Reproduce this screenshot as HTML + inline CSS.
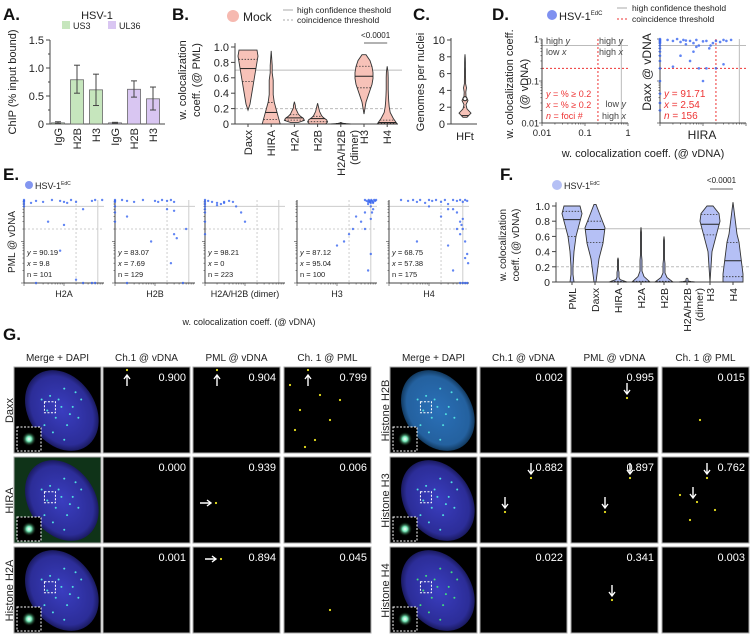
<!DOCTYPE html>
<html><head><meta charset="utf-8">
<style>
html,body{margin:0;padding:0;background:#fff;}
svg{display:block;font-family:"Liberation Sans",Arial,sans-serif;}
</style></head>
<body>
<svg id="fig" width="750" height="634" viewBox="0 0 750 634" xmlns="http://www.w3.org/2000/svg">
<defs>
<radialGradient id="nucB" cx="50%" cy="50%" r="50%"><stop offset="0" stop-color="#3a3ec0"/><stop offset="0.85" stop-color="#2c2d98"/><stop offset="1" stop-color="#1a1a60"/></radialGradient>
<radialGradient id="nucT" cx="50%" cy="50%" r="50%"><stop offset="0" stop-color="#2a70b8"/><stop offset="0.85" stop-color="#24619f"/><stop offset="1" stop-color="#123a60"/></radialGradient>
<radialGradient id="blob" cx="50%" cy="50%" r="50%"><stop offset="0" stop-color="#ffffff"/><stop offset="0.35" stop-color="#7cf0c0"/><stop offset="1" stop-color="#0a3010" stop-opacity="0"/></radialGradient>
</defs>
<g font-weight="bold" font-size="17" fill="#111">
<text x="3" y="20">A.</text><text x="172" y="20">B.</text><text x="413" y="20">C.</text><text x="492" y="20">D.</text>
<text x="3" y="180">E.</text><text x="500" y="180">F.</text><text x="3" y="340">G.</text>
</g>
<g id="pA"></g>
<g id="pB"></g>
<g id="pC"></g>
<g id="pD"></g>
<g id="pE"></g>
<g id="pF"></g>
<g id="pG"></g>
</svg>
<script>
// ---------- DATA ----------
const aCats=['IgG','H2B','H3','IgG','H2B','H3'];
const aVals=[0.02,0.79,0.61,0.02,0.62,0.45];
const aErrLo=[0.01,0.55,0.33,0.01,0.48,0.25];
const aErrHi=[0.04,1.05,0.89,0.03,0.77,0.66];
const aGroup=[0,0,0,1,1,1];
const aTicks=[0,0.5,1.0,1.5];
const aTickLabels=['0','0.5','1.0','1.5'];

const bCats=['Daxx','HIRA','H2A','H2B','H2A/H2B','H3','H4'];
const bMin=[0.18,0.0,0.02,0.0,0.0,0.13,0.0];
const bMax=[0.96,0.95,0.29,0.27,0.02,0.90,0.75];
const bMed=[0.72,0.15,0.08,0.07,0.005,0.62,0.02];
const bQ1=[0.55,0.06,0.05,0.03,0.0,0.47,0.01];
const bQ3=[0.84,0.28,0.12,0.10,0.01,0.75,0.05];
const bProf=[[0,2,3,4,5,6,7,8,9,10,9],[9,7,5,3,2,2,2,1,1,0.5,0],[4,10,9,6,4,3,2,1,1,0.5,0],[8,10,9,6,4,3,2,1.5,1,0.5,0],[10,8,6,4,3,2,1,1,0.5,0.5,0],[0,1,2,4,6,8,9,9,8,6,2],[10,6,3,2,1.5,1.2,1,1,1,0.8,0]];
const vTicks=[0,0.2,0.4,0.6,0.8,1.0];
const vTickLabels=['0','0.2','0.4','0.6','0.8','1.0'];

const cMin=0.8, cMax=8.3, cMed=1;
const cProf=[2,6,2,1,3,1,0.8,1.5,0.6,0.6,0.5,0.5,0.4,0.4,0.3,0];
const cTicks=[0,2,4,6,8,10];
const cTickLabels=['0','2','4','6','8','10'];

const dX=[0.01,0.01,0.01,0.01,0.01,0.01,0.01,0.01,0.01,0.01,0.01,0.01,0.01,0.01,0.01,0.015,0.02,0.025,0.03,0.035,0.04,0.05,0.06,0.07,0.08,0.1,0.12,0.14,0.17,0.2,0.25,0.3,0.35,0.45,0.03,0.05,0.08,0.12,0.02,0.06,0.1,0.15,0.3,0.04,0.07,0.2];
const dY=[1,0.95,0.9,0.85,0.8,0.7,0.6,0.5,0.4,0.3,0.2,0.1,0.05,0.03,0.02,0.95,0.9,1,0.85,0.95,0.92,0.9,0.8,0.95,0.7,0.88,0.9,0.6,0.8,0.9,0.85,0.95,0.9,0.95,0.4,0.3,0.2,0.2,0.22,0.5,0.1,0.7,0.25,0.75,0.65,0.2];
const dTicks=[0.01,0.1,1];
const dTickLabels=['0.01','0.1','1'];

const eCats=['H2A','H2B','H2A/H2B (dimer)','H3','H4'];
const eStats=[['90.19','9.8','101'],['83.07','7.69','129'],['98.21','0','223'],['87.12','95.04','100'],['68.75','57.38','175']];
const eX=[
[0.01,0.01,0.01,0.01,0.01,0.015,0.02,0.03,0.05,0.08,0.1,0.12,0.15,0.2,0.3,0.5,0.6,0.9,0.04,0.1,0.08,0.2,0.3,0.5,0.6,0.02],
[0.01,0.01,0.01,0.01,0.01,0.01,0.015,0.02,0.03,0.05,0.1,0.12,0.15,0.2,0.25,0.3,0.02,0.08,0.3,0.25,0.5,0.3,0.2,0.35,0.6,0.02],
[0.01,0.01,0.01,0.01,0.01,0.01,0.01,0.01,0.012,0.015,0.02,0.025,0.03,0.04,0.05,0.06,0.08,0.1,0.02,0.03],
[0.5,0.55,0.6,0.62,0.65,0.68,0.7,0.72,0.75,0.8,0.85,0.9,0.95,0.6,0.7,0.8,0.5,0.3,0.4,0.25,0.2,0.15,0.5,0.7,0.1,0.6,0.75,0.65,0.8,0.7],
[0.02,0.03,0.04,0.05,0.06,0.08,0.1,0.12,0.15,0.2,0.25,0.3,0.4,0.5,0.6,0.7,0.8,0.9,0.5,0.6,0.7,0.8,0.9,0.95,0.3,0.2,0.1,0.05,0.4,0.6,0.7,0.8,0.5,0.3,0.6,0.9,0.7,0.8,0.4,0.65]
];
const eY=[
[1,0.95,0.9,0.8,0.7,0.85,0.95,0.9,1,0.95,0.9,0.85,1,0.9,0.6,0.95,1,1,0.3,0.25,0.06,0.012,0.01,0.01,0.01,0.01],
[1,0.95,0.9,0.7,0.5,0.3,1,0.95,0.9,1,0.95,0.9,1,0.95,1,0.9,0.4,0.1,0.55,0.03,0.01,0.15,0.6,0.12,0.2,0.01],
[1,0.9,0.8,0.7,0.6,0.5,0.3,0.15,0.95,0.9,0.85,0.8,0.9,0.95,0.9,0.7,0.5,0.3,0.75,0.85],
[1,0.95,0.9,1,0.95,0.9,0.85,1,0.95,0.9,1,0.95,1,0.8,0.7,0.6,0.5,0.4,0.3,0.2,0.15,0.1,0.2,0.05,0.08,0.02,0.5,0.9,0.85,0.35],
[1,0.95,1,0.9,1,0.85,1,0.95,1,0.9,1,0.8,1,0.95,1,0.9,1,0.95,0.5,0.3,0.2,0.1,0.05,0.03,0.6,0.4,0.7,0.1,0.02,0.01,0.01,0.01,0.2,0.08,0.15,0.01,0.35,0.04,0.6,0.25]
];

const fCats=['PML','Daxx','HIRA','H2A','H2B','H2A/H2B','H3','H4'];
const fMin=[0,0,0,0,0,0,0,0];
const fMax=[1.0,1.02,0.32,0.72,0.6,0.05,1.0,1.05];
const fMed=[0.82,0.69,0.0,0.0,0.0,0.0,0.76,0.28];
const fQ1=[0.6,0.52,0,0,0,0,0.62,0.07];
const fQ3=[0.93,0.8,0.01,0.01,0.01,0.01,0.89,0.52];
const fProf=[[2,1,1,1.5,2,3,4,6,8,10,8],[1,2,3,4,6,8,9,10,7,4,1],[9,2,1,1,1,0.5,0.5,0.5,0.5,0.5,0],[9,3,1,1,1,0.5,0.5,0.5,0.5,0.5,0],[9,3,1,1,1,0.5,0.5,0.5,0.5,0.5,0],[8,4,2,1,1,1,1,1,1,0.5,0],[0,0.5,1,1.5,2,4,6,8,10,9,3],[10,10,9,8,7,6,4,3,2,1,0]];

const gHeaders=['Merge + DAPI','Ch.1 @ vDNA','PML @ vDNA','Ch. 1 @ PML'];
const gRowsL=['Daxx','HIRA','Histone H2A'];
const gRowsR=['Histone H2B','Histone H3','Histone H4'];
const gValsL=[['0.900','0.904','0.799'],['0.000','0.939','0.006'],['0.001','0.894','0.045']];
const gValsR=[['0.002','0.995','0.015'],['0.882','0.897','0.762'],['0.022','0.341','0.003']];

// ---------- HELPERS ----------
const NS='http://www.w3.org/2000/svg';
function el(tag,parent){const e=document.createElementNS(NS,tag);parent.appendChild(e);return e;}
function txt(parent,x,y,s,size,anchor,fill){const t=el('text',parent);t.setAttribute('x',x);t.setAttribute('y',y);t.setAttribute('font-size',size);t.setAttribute('text-anchor',anchor||'start');t.setAttribute('fill',fill||'#222');t.textContent=s;return t;}
function line(parent,x1,y1,x2,y2,stroke,w,dash){const l=el('line',parent);l.setAttribute('x1',x1);l.setAttribute('y1',y1);l.setAttribute('x2',x2);l.setAttribute('y2',y2);l.setAttribute('stroke',stroke);l.setAttribute('stroke-width',w||1);if(dash)l.setAttribute('stroke-dasharray',dash);return l;}
function rotText(parent,x,y,s,size,anchor){const t=txt(parent,x,y,s,size,anchor);t.setAttribute('transform','rotate(-90 '+x+' '+y+')');return t;}
const L10=v=>Math.log10(Math.max(v,0.01));

// ---------- A ----------
(function(){
const g=document.getElementById('pA');
const yA=v=>124-v*56, xA=i=>58+i*19;
let t=txt(g,97,19,'HSV-1',11,'middle');


const cols=['#c6e6bd','#d9c6f2'], names=['US3','UL36'];
for(let k=0;k<2;k++){
 const r=el('rect',g);r.setAttribute('x',62+k*46);r.setAttribute('y',21);r.setAttribute('width',8);r.setAttribute('height',8);r.setAttribute('fill',cols[k]);
 
 
 const lt=txt(g,73+k*46,29,names[k],9);
 
 
}
line(g,50,40,50,124,'#444',1);
line(g,50,124,165,124,'#444',1);
aTicks.forEach((v,i)=>{line(g,46,yA(v),50,yA(v),'#444',1);
 const tl=txt(g,44,yA(v)+4,aTickLabels[i],11,'end');
 
 });
line(g,48,yA(0.25),50,yA(0.25),'#444',1);line(g,48,yA(0.75),50,yA(0.75),'#444',1);line(g,48,yA(1.25),50,yA(1.25),'#444',1);
const yt=rotText(g,16,82,'ChIP (% input bound)',11,'middle');


aVals.forEach((v,i)=>{
 const r=el('rect',g);r.setAttribute('x',xA(i)-6.5);r.setAttribute('y',yA(v));r.setAttribute('width',13);r.setAttribute('height',yA(0)-yA(v));r.setAttribute('fill',cols[aGroup[i]]);r.setAttribute('stroke','#666');r.setAttribute('stroke-width',0.8);
 
 
 line(g,xA(i),yA(aErrLo[i]),xA(i),yA(aErrHi[i]),'#444',1);
 line(g,xA(i)-3,yA(aErrLo[i]),xA(i)+3,yA(aErrLo[i]),'#444',1);
 line(g,xA(i)-3,yA(aErrHi[i]),xA(i)+3,yA(aErrHi[i]),'#444',1);
 const c=rotText(g,xA(i)+4,128,aCats[i],11,'end');
 
 
});
})();

function violin(g,cx,yS,mn,mx,md,q1,q3,prof,fill,name){
 const n=prof.length, pts=[];
 for(let i=0;i<n;i++){const v=mn+(mx-mn)*i/(n-1);pts.push([yS(v),prof[i]]);}
 let d='M'+(cx-pts[0][1])+','+pts[0][0];
 for(let i=1;i<n;i++)d+=' L'+(cx-pts[i][1])+','+pts[i][0];
 for(let i=n-1;i>=0;i--)d+=' L'+(cx+pts[i][1])+','+pts[i][0];
 d+='Z';
 const p=el('path',g);p.setAttribute('d',d);p.setAttribute('fill',fill);p.setAttribute('stroke','#333');p.setAttribute('stroke-width',0.9);
 
 
 const w=v=>{const f=(v-mn)/((mx-mn)||1)*(n-1);const i=Math.max(0,Math.min(n-2,Math.floor(f)));const r=f-i;return prof[i]*(1-r)+prof[i+1]*r;};
 line(g,cx-w(md),yS(md),cx+w(md),yS(md),'#222',1);
 line(g,cx-w(q1),yS(q1),cx+w(q1),yS(q1),'#333',0.8,'1.5,1.5');
 line(g,cx-w(q3),yS(q3),cx+w(q3),yS(q3),'#333',0.8,'1.5,1.5');
}

// ---------- B ----------
(function(){
const g=document.getElementById('pB');
const yB=v=>124-v*77, xB=i=>248+i*23.2;
const c=el('circle',g);c.setAttribute('cx',233);c.setAttribute('cy',16);c.setAttribute('r',6);c.setAttribute('fill','#f6b9b0');


let t=txt(g,243,21,'Mock',12);


line(g,283,10,293,10,'#aaa',1);line(g,283,20,293,20,'#aaa',1,'2,2');
t=txt(g,297,13,'high confidence theshold',8.5);


t=txt(g,297,23,'coincidence threshold',8.5);


line(g,235,yB(0.7),402,yB(0.7),'#bbb',1);
line(g,235,yB(0.2),402,yB(0.2),'#bbb',1,'3,2');
line(g,235,yB(1.05),235,124,'#444',1);line(g,235,124,398,124,'#444',1);
vTicks.forEach((v,i)=>{line(g,231,yB(v),235,yB(v),'#444',1);
 const tl=txt(g,229,yB(v)+4,vTickLabels[i],11,'end');
 
 });
t=rotText(g,186,80,'w. colocalization',11,'middle');


t=rotText(g,200,80,'coeff. (@ PML)',11,'middle');


bCats.forEach((cat,i)=>{
 violin(g,xB(i),yB,bMin[i],bMax[i],bMed[i],bQ1[i],bQ3[i],bProf[i],'#f7c2b8',cat.toLowerCase());
 line(g,xB(i),124,xB(i),127,'#444',1);
 const ct=rotText(g,xB(i)+4,130,cat,11,'end');
 
 
});
const d=rotText(g,xB(4)+17,130,'(dimer)',11,'end');


line(g,xB(5),43,xB(6),43,'#666',1);
t=txt(g,(xB(5)+xB(6))/2,38,'<0.0001',8,'middle');


})();

// ---------- C ----------
(function(){
const g=document.getElementById('pC');
const yC=v=>124-v*8.4, cx=465;
line(g,451,38,451,124,'#444',1);line(g,451,124,477,124,'#444',1);
cTicks.forEach((v,i)=>{line(g,447,yC(v),451,yC(v),'#444',1);
 const tl=txt(g,445,yC(v)+4,cTickLabels[i],11,'end');
 
 });
let t=rotText(g,424,82,'Genomes per nuclei',11,'middle');


violin(g,cx,yC,cMin,cMax,cMed,cMed,2,cProf,'#f7c2b8','hft');
const m=el('circle',g);m.setAttribute('cx',cx);m.setAttribute('cy',yC(3));m.setAttribute('r',2);m.setAttribute('fill','#fff');m.setAttribute('stroke','#222');


t=txt(g,cx,140,'HFt',11,'middle');


})();

// ---------- D ----------
(function(){
const g=document.getElementById('pD');
const xL=v=>542+(L10(v)+2)/2*86, xR=v=>660+(L10(v)+2)/2*86, yD=v=>123-(L10(v)+2)/2*84;
const c=el('circle',g);c.setAttribute('cx',552);c.setAttribute('cy',15);c.setAttribute('r',5);c.setAttribute('fill','#7e90f0');


let t=txt(g,559,20,'HSV-1',11);t.innerHTML='HSV-1<tspan font-size="6" dy="-5">EdC</tspan>';


line(g,617,8,627,8,'#aaa',1);line(g,617,19,627,19,'#e33',1,'2,2');
t=txt(g,632,11,'high confidence theshold',8.5);


t=txt(g,632,22,'coincidence threshold',8.5);


[xL,xR].forEach((xf,k)=>{
 line(g,xf(0.7),yD(1),xf(0.7),123,'#bbb',1);line(g,xf(0.01),yD(0.7),xf(1),yD(0.7),'#bbb',1);
 line(g,xf(0.2),yD(1),xf(0.2),123,'#e33',1,'2,2');line(g,xf(0.01),yD(0.2),xf(1),yD(0.2),'#e33',1,'2,2');
 line(g,xf(0.01),yD(1),xf(0.01),123,'#444',1);line(g,xf(0.01),123,xf(1),123,'#444',1);
 for(let e=-2;e<0;e++)for(let m=1;m<10;m++){const v=m*Math.pow(10,e);const L=m==1?3:1.5;
  line(g,xf(0.01)-L,yD(v),xf(0.01),yD(v),'#444',0.7);line(g,xf(v),123,xf(v),123+L,'#444',0.7);}
 line(g,xf(0.01)-3,yD(1),xf(0.01),yD(1),'#444',0.7);line(g,xf(1),123,xf(1),126,'#444',0.7);
});
dTicks.forEach((v,i)=>{
 const a=txt(g,xL(v),136,dTickLabels[i],9.5,'middle');
 
 
 const b=txt(g,539,yD(v)+3.5,dTickLabels[i],9,'end');
 
 
});
const q=[[546,44,'high '],[546,55,'low '],[599,44,'high '],[599,55,'high ']];
const qv=['y','x','y','x'];
q.forEach((p,i)=>{const tt=txt(g,p[0],p[1],p[2],9,'start','#444');tt.innerHTML=p[2]+'<tspan font-style="italic">'+qv[i]+'</tspan>';
 
 });
t=txt(g,626,107,'',9,'end','#444');t.innerHTML='low <tspan font-style="italic">y</tspan>';


t=txt(g,626,119,'',9,'end','#444');t.innerHTML='high <tspan font-style="italic">x</tspan>';


const red=[['y',' = % ≥ 0.2',97],['x',' = % ≥ 0.2',108],['n',' = foci #',119]];
red.forEach(r=>{const tt=txt(g,546,r[2],'',9,'start','#e33');tt.innerHTML='<tspan font-style="italic">'+r[0]+'</tspan>'+r[1];
 
 });
const red2=[['y',' = 91.71',97],['x',' = 2.54',108],['n',' = 156',119]];
red2.forEach(r=>{const tt=txt(g,664,r[2],'',10,'start','#e33');tt.innerHTML='<tspan font-style="italic">'+r[0]+'</tspan>'+r[1];
 
 });
dX.forEach((v,i)=>{const p=el('circle',g);p.setAttribute('cx',xR(v));p.setAttribute('cy',yD(dY[i]));p.setAttribute('r',1.3);p.setAttribute('fill','#3a66f0');p.setAttribute('fill-opacity',0.8);
 
 });
t=txt(g,702,139,'HIRA',12,'middle');


t=rotText(g,651,72,'Daxx @ vDNA',12,'middle');


t=rotText(g,513,84,'w. colocalization coeff.',11,'middle');


t=rotText(g,528,84,'(@ vDNA)',11,'middle');


t=txt(g,643,157,'w. colocalization coeff. (@ vDNA)',11,'middle');


})();

// ---------- E ----------
(function(){
const g=document.getElementById('pE');
const c=el('circle',g);c.setAttribute('cx',29);c.setAttribute('cy',185);c.setAttribute('r',4);c.setAttribute('fill','#8396f0');


let t=txt(g,35,189,'',9);t.innerHTML='HSV-1<tspan font-size="5" dy="-4">EdC</tspan>';


const left=[24,115,205,297,389], W=80;
const yE=v=>283-(L10(v)+2)/2*83;
eCats.forEach((cat,k)=>{
 const x0=left[k], xE=v=>x0+(L10(v)+2)/2*W;
 line(g,xE(0.01),yE(0.7),xE(1),yE(0.7),'#ccc',1);line(g,xE(0.7),yE(1),xE(0.7),283,'#ccc',1);
 line(g,xE(0.01),yE(0.2),xE(1),yE(0.2),'#ccc',1,'2,2');line(g,xE(0.2),yE(1),xE(0.2),283,'#ccc',1,'2,2');
 line(g,x0,yE(1),x0,283,'#444',1);line(g,x0,283,xE(1),283,'#444',1);
 for(let e=-2;e<0;e++)for(let m=1;m<10;m++){const v=m*Math.pow(10,e);const L=m==1?3:1.5;
  line(g,x0-L,yE(v),x0,yE(v),'#444',0.6);line(g,xE(v),283,xE(v),283+L,'#444',0.6);}
 eX[k].forEach((v,i)=>{const p=el('circle',g);p.setAttribute('cx',xE(v));p.setAttribute('cy',yE(eY[k][i]));p.setAttribute('r',1.2);p.setAttribute('fill','#3a66f0');p.setAttribute('fill-opacity',0.8);
  
  });
 const lab=[['y',eStats[k][0],255],['x',eStats[k][1],266],['n',eStats[k][2],277]];
 lab.forEach(l=>{const tt=txt(g,x0+3,l[2],'',7.5,'start','#222');tt.innerHTML=(l[0]=='n'?'n':'<tspan font-style="italic">'+l[0]+'</tspan>')+' = '+l[1];
  
  });
 const ct=txt(g,x0+W/2,297,cat,9,'middle');
 
 
});
t=rotText(g,15,242,'PML @ vDNA',10,'middle');


t=txt(g,249,325,'w. colocalization coeff. (@ vDNA)',9,'middle');


})();

// ---------- F ----------
(function(){
const g=document.getElementById('pF');
const yF=v=>282-v*76, xF=i=>572+i*23;
const c=el('circle',g);c.setAttribute('cx',557);c.setAttribute('cy',185);c.setAttribute('r',5);c.setAttribute('fill','#b5c0f5');


let t=txt(g,564,189,'',9);t.innerHTML='HSV-1<tspan font-size="5" dy="-4">EdC</tspan>';


line(g,556,yF(0.7),750,yF(0.7),'#bbb',1);line(g,556,yF(0.2),750,yF(0.2),'#bbb',1,'3,2');
line(g,556,yF(1.05),556,282,'#444',1);line(g,556,282,742,282,'#444',1);
vTicks.forEach((v,i)=>{line(g,552,yF(v),556,yF(v),'#444',1);
 const tl=txt(g,550,yF(v)+4,vTickLabels[i],10.5,'end');
 
 });
t=rotText(g,506,245,'w. colocalization',10,'middle');


t=rotText(g,519,245,'coeff. (@ vDNA)',10,'middle');


fCats.forEach((cat,i)=>{
 violin(g,xF(i),yF,fMin[i],fMax[i],fMed[i],fQ1[i],fQ3[i],fProf[i],'#b5c0f5',cat.toLowerCase());
 line(g,xF(i),282,xF(i),285,'#444',1);
 const ct=rotText(g,xF(i)+4,288,cat,10.5,'end');
 
 
});
const d=rotText(g,xF(5)+16,288,'(dimer)',10.5,'end');


line(g,xF(6),189,xF(7),189,'#666',1);
t=txt(g,(xF(6)+xF(7))/2,183,'<0.0001',8,'middle');


})();

// ---------- G ----------
(function(){
const g=document.getElementById('pG');
const colsL=[14,103,193,284], colsR=[390,480,571,662], rows=[367,457,547], S=87;
const blocks=[[colsL,gRowsL,gValsL,8],[colsR,gRowsR,gValsR,384]];
const dots=[[0.3,0.3],[0.55,0.2],[0.7,0.45],[0.4,0.6],[0.6,0.7],[0.25,0.5],[0.5,0.45],[0.75,0.25],[0.35,0.8],[0.65,0.55],[0.45,0.35],[0.2,0.7],[0.8,0.6],[0.15,0.35],[0.55,0.9],[0.85,0.35]];
blocks.forEach((b,bi)=>{
 const cols=b[0];
 gHeaders.forEach((h,i)=>{const t=txt(g,cols[i]+S/2,361,h,10,'middle','#222');
  
  });
 rows.forEach((ry,r)=>{
  const rl=rotText(g,b[3]+5,ry+S/2,b[1][r],11,'middle');
  
  
  cols.forEach((cx,ci)=>{
   const tile=el('rect',g);tile.setAttribute('x',cx);tile.setAttribute('y',ry);tile.setAttribute('width',S);tile.setAttribute('height',S-1);tile.setAttribute('fill','#000');tile.setAttribute('stroke','#aaa');tile.setAttribute('stroke-width',1);
   
   
   if(ci==0){
    const bg=(bi==0&&r==1);
    if(bg){const gr=el('rect',g);gr.setAttribute('x',cx+0.5);gr.setAttribute('y',ry+0.5);gr.setAttribute('width',S-1);gr.setAttribute('height',S-2);gr.setAttribute('fill','#0f3318');}
    const ex=cx+S*0.55, ey=ry+S*0.5;
    const e=el('ellipse',g);e.setAttribute('cx',ex);e.setAttribute('cy',ey);e.setAttribute('rx',S*0.38);e.setAttribute('ry',S*0.5);
    e.setAttribute('transform','rotate(-35 '+ex+' '+ey+')');
    e.setAttribute('fill',(bi==1&&r<1)?'url(#nucT)':'url(#nucB)');
    
    
    dots.forEach(d=>{const p=el('circle',g);p.setAttribute('cx',cx+S*(0.22+d[0]*0.65));p.setAttribute('cy',ry+S*(0.08+d[1]*0.84));p.setAttribute('r',1);p.setAttribute('fill',(bi==1&&r==2)?'#40e080':'#50e0e0');});
    const inset=el('rect',g);inset.setAttribute('x',cx+3);inset.setAttribute('y',ry+S-27);inset.setAttribute('width',24);inset.setAttribute('height',24);inset.setAttribute('fill','#000');inset.setAttribute('stroke','#fff');inset.setAttribute('stroke-dasharray','2,1.5');
    
    
    const bl=el('circle',g);bl.setAttribute('cx',cx+15);bl.setAttribute('cy',ry+S-15);bl.setAttribute('r',7);bl.setAttribute('fill','url(#blob)');
    const sb=el('rect',g);sb.setAttribute('x',cx+S*0.35);sb.setAttribute('y',ry+S*0.4);sb.setAttribute('width',11);sb.setAttribute('height',11);sb.setAttribute('fill','none');sb.setAttribute('stroke','#fff');sb.setAttribute('stroke-dasharray','2,1.5');
   } else {
    const v=txt(g,cx+S-4,ry+14,b[2][r][ci-1],11,'end','#fff');
    
    
   }
  });
 });
});
// yellow foci (image features)
const spots=[[127,370],[217,370],[308,370],[290,385],[320,395],[300,410],[330,420],[295,430],[315,440],[340,400],[305,447],
 [216,503],[221,559],[627,398],[531,478],[505,512],[630,478],[605,512],[707,478],[697,502],[690,520],[715,510],[680,495],[612,600],[700,420],[330,610]];
spots.forEach(s=>{const p=el('circle',g);p.setAttribute('cx',s[0]);p.setAttribute('cy',s[1]);p.setAttribute('r',1.1);p.setAttribute('fill','#e8e020');
 
 });
// arrows: [tipX, tipY, direction]
const arrows=[[127,375,'up'],[217,375,'up'],[308,375,'up'],[211,503,'right'],[216,559,'right'],[627,394,'down'],[531,474,'down'],[505,508,'down'],[630,474,'down'],[605,508,'down'],[707,474,'down'],[693,498,'down'],[612,596,'down']];
arrows.forEach(a=>{
 const x=a[0],y=a[1];
 const gA=el('g',g);
 
 
 let d;
 if(a[2]=='up') d='M'+x+','+y+' L'+x+','+(y+11)+' M'+(x-3)+','+(y+4)+' L'+x+','+y+' L'+(x+3)+','+(y+4);
 else if(a[2]=='right') d='M'+(x-11)+','+y+' L'+x+','+y+' M'+(x-4)+','+(y-3)+' L'+x+','+y+' L'+(x-4)+','+(y+3);
 else d='M'+x+','+(y-11)+' L'+x+','+y+' M'+(x-3)+','+(y-4)+' L'+x+','+y+' L'+(x+3)+','+(y-4);
 const p=el('path',gA);p.setAttribute('d',d);p.setAttribute('stroke','#fff');p.setAttribute('stroke-width',1.4);p.setAttribute('fill','none');
});
})();
</script>
</body></html>
